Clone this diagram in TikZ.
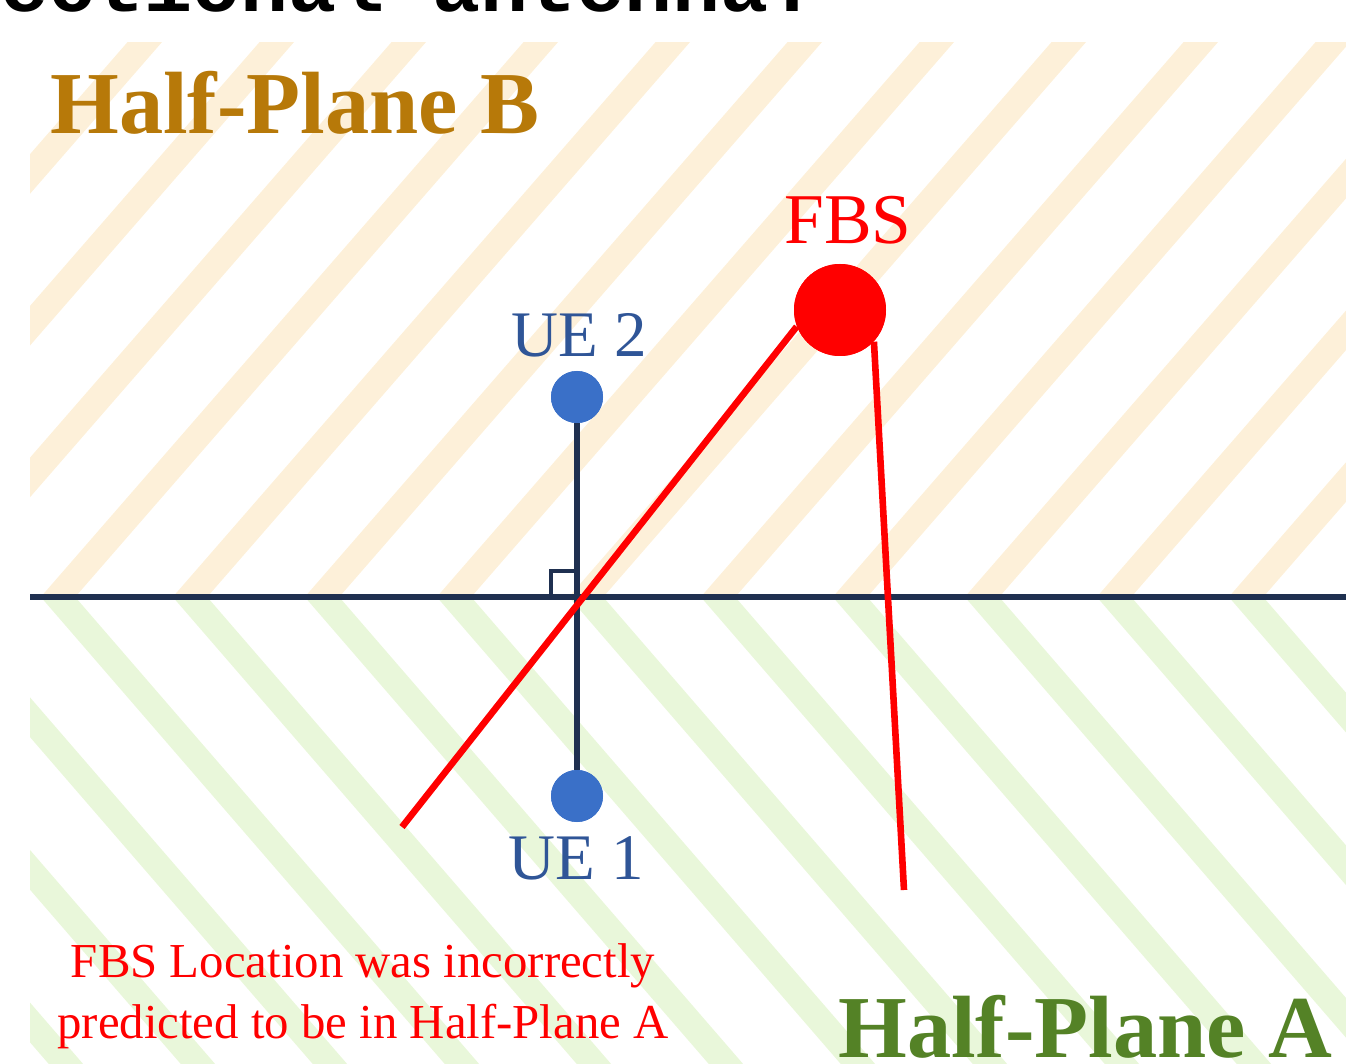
\documentclass[tikz,border=0pt]{standalone}
\usepackage{fontspec}
\setmainfont{Liberation Serif}
\newfontfamily\titlefont{Liberation Mono}
\definecolor{stripeB}{RGB}{253,240,217}
\definecolor{stripeA}{RGB}{233,247,218}
\definecolor{goldB}{RGB}{183,121,9}
\definecolor{greenA}{RGB}{84,130,38}
\definecolor{navy}{RGB}{31,48,80}
\definecolor{uefill}{RGB}{58,112,200}
\definecolor{uetext}{RGB}{47,85,151}
\definecolor{fbsred}{RGB}{255,0,0}
\tikzset{
  hatchB/.style={draw=stripeB, line width=13pt},
  hatchA/.style={draw=stripeA, line width=13pt},
  navyline/.style={draw=navy, line width=2.8pt},
  redline/.style={draw=fbsred, line width=3.3pt},
  uedot/.style={circle, fill=uefill, minimum size=26pt, inner sep=0pt},
  fbsdot/.style={circle, fill=fbsred, minimum size=46pt, inner sep=0pt},
  uelabel/.style={text=uetext, font=\fontsize{32.5}{36}\selectfont, inner sep=0pt},
  planelabel/.style={font=\fontsize{44.2}{50}\selectfont\bfseries, inner sep=0pt},
  notelabel/.style={text=fbsred, font=\fontsize{24.4}{28}\selectfont, inner sep=0pt, anchor=base}
}
\begin{document}
\begin{tikzpicture}[x=0.5pt,y=-0.5pt]
\useasboundingbox (0,0) rectangle (1346,1064);
% title fragment at the top (cut by the page edge)
\begin{scope}
  \clip (0,0) rectangle (1346,1064);
  \node[font=\titlefont\bfseries\fontsize{40}{44}\selectfont, anchor=base west, inner sep=0pt] (title) at (-48,12) {sectional antenna:};
\end{scope}
% half-plane B hatching
\begin{scope}
  \clip (30,43) rectangle (1346,597);
  \foreach \k in {-5,...,10}{
    \draw[hatchB] ({58+132*\k-87},697) -- ({58+132*\k+609},-103);
  }
\end{scope}
% half-plane A hatching
\begin{scope}
  \clip (30,597) rectangle (1346,1064);
  \foreach \k in {-5,...,10}{
    \draw[hatchA] ({58+132*\k-86.5},497) -- ({58+132*\k+519},1197);
  }
\end{scope}
% nodes
\coordinate (axL) at (30,597);
\coordinate (axR) at (1346,597);
\coordinate (sqA) at (551,597);
\coordinate (sqB) at (551,571);
\coordinate (sqC) at (577,571);
\coordinate (end1) at (402,827);
\coordinate (end2) at (904,890);
\node[uedot] (ue2) at (577,397) {};
\node[uedot] (ue1) at (577,796) {};
\node[fbsdot] (fbs) at (840,310) {};
% dividing line and perpendicular
\draw[navyline] (axL) -- (axR);
\draw[navyline] (ue2) -- (ue1);
\draw[draw=navy, line width=1.7pt] (sqA) -- (sqB) -- (sqC);
% red lines
\draw[redline] (fbs.201.6) -- (end1);
\draw[redline] (fbs.-43) -- (end2);
% redraw dots on top
\node[uedot] at (ue2) {};
\node[uedot] at (ue1) {};
\node[fbsdot] at (fbs) {};
% labels
\node[planelabel, text=goldB, anchor=base west] (hpB) at (50,134) {Half-Plane B};
\node[planelabel, text=greenA, anchor=base west] (hpA) at (838,1057) {Half-Plane A};
\node[text=fbsred, font=\fontsize{35.7}{40}\selectfont, inner sep=0pt, anchor=base] (fbslab) at (848,244) {FBS};
\node[uelabel, anchor=base] (ue2lab) at (579,357) {UE 2};
\node[uelabel, anchor=base] (ue1lab) at (576,879) {UE 1};
\node[notelabel] (note1) at (363,977) {FBS Location was incorrectly};
\node[notelabel] (note2) at (363,1038) {predicted to be in Half-Plane A};
\end{tikzpicture}
\end{document}
